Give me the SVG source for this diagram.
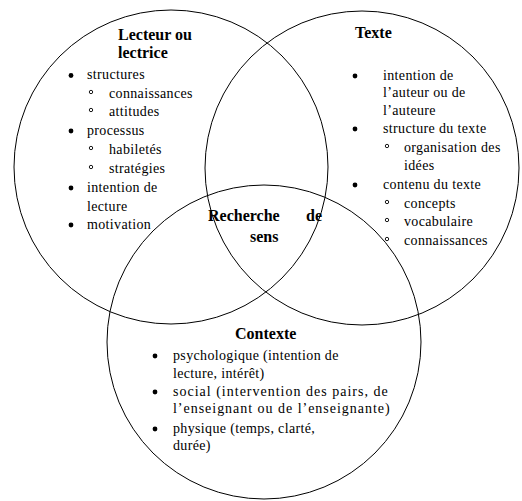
<svg xmlns="http://www.w3.org/2000/svg" width="522" height="501" viewBox="0 0 522 501">
<style>
.c{fill:none;stroke:#000;stroke-width:1}
text{font-family:"Liberation Serif",Tinos,"Noto Serif","DejaVu Serif",FreeSerif,"Nimbus Roman","Nimbus Roman No9 L",Times,Georgia,serif}
.t{font-size:14px;letter-spacing:0.35px;fill:#000}
.h{font-size:16px;font-weight:bold;fill:#000}
.b{fill:#000}
.o{fill:none;stroke:#000;stroke-width:0.9}
</style>
<rect width="522" height="501" fill="#fff"/>
<g id="lecteur">
<circle class="c" cx="171" cy="167" r="157"/>
<text class="h" x="118" y="40">Lecteur ou</text>
<text class="h" x="118" y="58">lectrice</text>
<circle class="b" cx="71" cy="75.5" r="2.4"/>
<text class="t" x="87" y="79">structures</text>
<circle class="o" cx="91" cy="92" r="1.7"/>
<text class="t" x="109" y="98">connaissances</text>
<circle class="o" cx="91" cy="110" r="1.7"/>
<text class="t" x="109" y="116">attitudes</text>
<circle class="b" cx="71" cy="131" r="2.4"/>
<text class="t" x="87" y="135">processus</text>
<circle class="o" cx="91" cy="148" r="1.7"/>
<text class="t" x="109" y="154">habiletés</text>
<circle class="o" cx="91" cy="167" r="1.7"/>
<text class="t" x="109" y="173">stratégies</text>
<circle class="b" cx="71" cy="188" r="2.4"/>
<text class="t" x="87" y="192">intention de</text>
<text class="t" x="87" y="211">lecture</text>
<circle class="b" cx="71" cy="225" r="2.4"/>
<text class="t" x="87" y="229">motivation</text>
</g>
<g id="texte">
<circle class="c" cx="362" cy="168" r="157"/>
<text class="h" x="355" y="38">Texte</text>
<circle class="b" cx="355" cy="76" r="2.4"/>
<text class="t" x="383" y="80">intention de</text>
<text class="t" x="383" y="97">l’auteur ou de</text>
<text class="t" x="383" y="115">l’auteure</text>
<circle class="b" cx="355" cy="129" r="2.4"/>
<text class="t" x="383" y="133">structure du texte</text>
<circle class="o" cx="387" cy="146" r="1.7"/>
<text class="t" x="404" y="152">organisation des</text>
<text class="t" x="404" y="170">idées</text>
<circle class="b" cx="355" cy="185" r="2.4"/>
<text class="t" x="383" y="189">contenu du texte</text>
<circle class="o" cx="387" cy="202" r="1.7"/>
<text class="t" x="404" y="208">concepts</text>
<circle class="o" cx="387" cy="220" r="1.7"/>
<text class="t" x="404" y="226">vocabulaire</text>
<circle class="o" cx="387" cy="239" r="1.7"/>
<text class="t" x="404" y="245">connaissances</text>
</g>
<g id="contexte">
<circle class="c" cx="264" cy="342" r="157"/>
<text class="h" x="235" y="339">Contexte</text>
<circle class="b" cx="155" cy="356" r="2.4"/>
<text class="t" x="173" y="360">psychologique (intention de</text>
<text class="t" x="173" y="378">lecture, intérêt)</text>
<circle class="b" cx="155" cy="392" r="2.4"/>
<text class="t" x="173" y="396" textLength="215" lengthAdjust="spacing">social (intervention des pairs, de</text>
<text class="t" x="173" y="413" textLength="217" lengthAdjust="spacing">l’enseignant ou de l’enseignante)</text>
<circle class="b" cx="155" cy="429" r="2.4"/>
<text class="t" x="173" y="433">physique (temps, clarté,</text>
<text class="t" x="173" y="450">durée)</text>
</g>
<g id="recherche">
<text class="h" x="208" y="221">Recherche</text>
<text class="h" x="306" y="221">de</text>
<text class="h" x="250" y="242">sens</text>
</g>
</svg>
